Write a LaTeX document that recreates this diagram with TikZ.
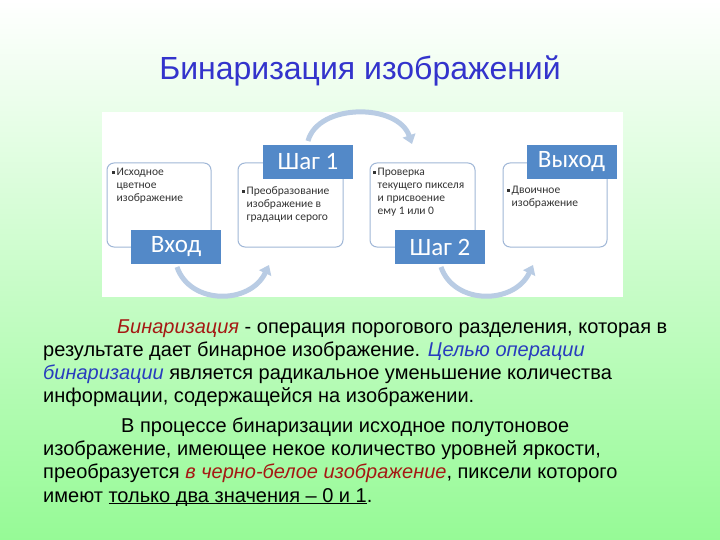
\documentclass[tikz,border=0pt]{standalone}
\usepackage{fontspec}
\setmainfont{Liberation Sans}
\newfontfamily\carlito{Carlito}
\usetikzlibrary{arrows.meta}
\definecolor{bgbot}{RGB}{150,250,150}
\definecolor{titleblue}{RGB}{51,51,204}
\definecolor{redt}{RGB}{165,25,20}
\definecolor{bluet}{RGB}{40,60,190}
\definecolor{lblfill}{RGB}{83,137,200}
\definecolor{boxline}{RGB}{160,183,215}
\definecolor{arcblue}{RGB}{185,204,228}
\tikzset{
  titletxt/.style={anchor=base, inner sep=0pt, text=titleblue, font=\fontsize{32}{38}\selectfont},
  bodyline/.style={anchor=base west, inner sep=0pt, font=\fontsize{20}{23}\selectfont},
  txtbox/.style={draw=boxline, line width=1pt, fill=white, rounded corners=7pt, minimum height=84pt, inner sep=0pt},
  lbl/.style={fill=lblfill, text=white, minimum width=90pt, minimum height=34pt, inner sep=0pt, font=\carlito\fontsize{25}{27}\selectfont},
  smalltxt/.style={anchor=base west, inner sep=0pt, text=black!80, font=\carlito\fontsize{11.5}{13}\selectfont},
  arcarrow/.style={draw=arcblue, line width=5pt, -{Triangle[width=13pt,length=9pt]}},
}
\newcommand{\bul}{\makebox[4.5pt][l]{\rule[2.2pt]{2.6pt}{2.6pt}}}
\newcommand{\ind}{\hspace*{4.5pt}}
\newcommand{\ul}[1]{\setbox0=\hbox{#1}\rlap{\rule[-1.6pt]{\wd0}{0.9pt}}#1}
\begin{document}
\begin{tikzpicture}[x=1pt,y=-1pt]
\useasboundingbox (0,0) rectangle (720,540);
\shade[top color=white, bottom color=bgbot] (0,0) rectangle (720,540);

\node[titletxt] (title) at (360,80) {Бинаризация изображений};

% diagram panel
\node[fill=white, minimum width=521pt, minimum height=185pt, inner sep=0pt] (panel) at (362.5,204.5) {};

% arcs
\coordinate (a1s) at (308,141);
\coordinate (a1e) at (412,144);
\coordinate (a0s) at (177,267);
\coordinate (a0e) at (269,265);
\coordinate (a2s) at (441,267);
\coordinate (a2e) at (533,265);
\draw[arcarrow] (a1s) .. controls (318,103) and (398,103) .. (a1e);
\draw[arcarrow] (a0s) .. controls (190,305) and (250,305) .. (a0e);
\draw[arcarrow] (a2s) .. controls (454,305) and (514,305) .. (a2e);

% text boxes
\node[txtbox, minimum width=104pt] (b1) at (159,205) {};
\node[txtbox, minimum width=105pt] (b2) at (290.5,205) {};
\node[txtbox, minimum width=105pt] (b3) at (422.5,205) {};
\node[txtbox, minimum width=104pt] (b4) at (555,205) {};

\node[smalltxt] (t1) at (112,176) {\parbox[t]{98pt}{\bul Исходное\\\ind цветное\\\ind изображение}};
\node[smalltxt] (t2) at (242,195) {\parbox[t]{98pt}{\bul Преобразование\\\ind изображение в\\\ind градации серого}};
\node[smalltxt] (t3) at (373,176) {\parbox[t]{98pt}{\bul Проверка\\\ind текущего пикселя\\\ind и присвоение\\\ind ему 1 или 0}};
\node[smalltxt] (t4) at (507,194) {\parbox[t]{98pt}{\bul Двоичное\\\ind изображение}};

% labels
\node[lbl] (l1) at (176,247) {Вход};
\node[lbl] (l2) at (308,162) {Шаг 1};
\node[lbl] (l3) at (440,247) {Шаг 2};
\node[lbl] (l4) at (571.5,162) {Выход};

% body text
\node[bodyline] (p1) at (117,333) {{\color{redt}\itshape Бинаризация} - операция порогового разделения, которая в};
\node[bodyline] (p2) at (43,356) {результате дает бинарное изображение. {\color{bluet}\itshape Целью операции}};
\node[bodyline] (p3) at (43,379) {{\color{bluet}\itshape бинаризации} является радикальное уменьшение количества};
\node[bodyline] (p4) at (43,402) {информации, содержащейся на изображении.};
\node[bodyline] (p5) at (121,432) {В процессе бинаризации исходное полутоновое};
\node[bodyline] (p6) at (43,455) {изображение, имеющее некое количество уровней яркости,};
\node[bodyline] (p7) at (43,478) {преобразуется {\color{redt}\itshape в черно-белое изображение}, пиксели которого};
\node[bodyline] (p8) at (43,502) {имеют \ul{только два значения – 0 и 1}.};
\end{tikzpicture}
\end{document}
